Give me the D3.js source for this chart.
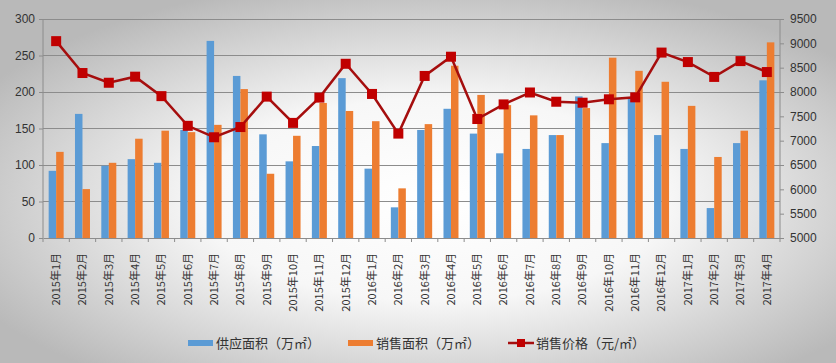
<!DOCTYPE html>
<html><head><meta charset="utf-8">
<script src="https://cdn.jsdelivr.net/npm/d3@7"></script>
<style>html,body{margin:0;padding:0;}svg{display:block;}</style>
</head><body>
<svg id="c" width="836" height="363"></svg>
<script>
const categories = ["2015年1月","2015年2月","2015年3月","2015年4月","2015年5月","2015年6月","2015年7月","2015年8月","2015年9月","2015年10月","2015年11月","2015年12月","2016年1月","2016年2月","2016年3月","2016年4月","2016年5月","2016年6月","2016年7月","2016年8月","2016年9月","2016年10月","2016年11月","2016年12月","2017年1月","2017年2月","2017年3月","2017年4月"];
const supply = [92,170,99,108,103,148,270,222,142,105,126,219,95,42,148,177,143,116,122,141,194,130,191,141,122,41,130,216];
const sales = [118,67,103,136,147,145,155,204,88,140,185,174,160,68,156,236,196,182,168,141,178,247,229,214,181,111,147,268];
const price = [9045,8390,8190,8315,7915,7305,7070,7280,7905,7365,7885,8580,7960,7145,8330,8725,7445,7745,7990,7800,7780,7850,7890,8810,8615,8310,8635,8410];
const leftTicks = [0,50,100,150,200,250,300];
const rightTicks = [5000,5500,6000,6500,7000,7500,8000,8500,9000,9500];
const seriesNames = ["供应面积（万㎡）","销售面积（万㎡）","销售价格（元/㎡）"];

const svg = d3.select("#c");
const W = 836, H = 363;
const defs = svg.append("defs");
const rg = defs.append("radialGradient").attr("id","bg").attr("cx","52%").attr("cy","55%").attr("r","62%");
rg.append("stop").attr("offset","0%").attr("stop-color","#ffffff");
rg.append("stop").attr("offset","45%").attr("stop-color","#f7f7f7");
rg.append("stop").attr("offset","100%").attr("stop-color","#b9b9b9");
svg.append("rect").attr("width",W).attr("height",H).attr("fill","url(#bg)");

const m = {l:43, r:780, t:19, b:238};
const x = d3.scaleBand().domain(categories).range([m.l, m.r]);
const yL = d3.scaleLinear().domain([0,300]).range([m.b, m.t]);
const yR = d3.scaleLinear().domain([5000,9500]).range([m.b, m.t]);

const font = "'Liberation Sans', 'DejaVu Sans', sans-serif";
const cjk = "'Noto Sans CJK SC', sans-serif";

svg.append("g").selectAll("line").data(leftTicks.filter(d=>d>0)).join("line")
  .attr("x1",m.l).attr("x2",m.r).attr("y1",d=>yL(d)).attr("y2",d=>yL(d))
  .attr("stroke","#8c8c8c").attr("stroke-width",1).attr("shape-rendering","crispEdges");

const bw = 7.5;
svg.append("g").selectAll("rect").data(supply).join("rect")
  .attr("x",(d,i)=>x(categories[i])+x.bandwidth()/2-bw)
  .attr("y",d=>yL(d)).attr("width",bw).attr("height",d=>m.b-yL(d))
  .attr("fill","#5b9bd5");
svg.append("g").selectAll("rect").data(sales).join("rect")
  .attr("x",(d,i)=>x(categories[i])+x.bandwidth()/2)
  .attr("y",d=>yL(d)).attr("width",bw).attr("height",d=>m.b-yL(d))
  .attr("fill","#ed7d31");

const axL = d3.axisLeft(yL).tickValues(leftTicks).tickSize(4).tickPadding(4);
const gL = svg.append("g").attr("transform",`translate(${m.l},0)`).call(axL);
const axR = d3.axisRight(yR).tickValues(rightTicks).tickFormat(d3.format("d")).tickSize(4).tickPadding(6);
const gR = svg.append("g").attr("transform",`translate(${m.r},0)`).call(axR);
const axB = d3.axisBottom(x).tickSize(0).tickPadding(0);
const gB = svg.append("g").attr("transform",`translate(0,${m.b})`).call(axB);
[gL,gR,gB].forEach(g=>{
  g.select(".domain").attr("stroke","#8c8c8c");
  g.selectAll(".tick line").attr("stroke","#8c8c8c");
  g.selectAll("text").attr("fill","#333").style("font-family",font).style("font-size","12px");
});
gL.select(".domain").attr("d",`M-0,${m.t}H0V${m.b}H-0`);
gR.select(".domain").attr("d",`M0,${m.t}H0V${m.b}H0`);
gB.append("g").selectAll("line").data(d3.range(categories.length+1)).join("line")
  .attr("x1",i=>m.l+i*x.step()).attr("x2",i=>m.l+i*x.step()).attr("y1",0).attr("y2",4)
  .attr("stroke","#8c8c8c");
gB.selectAll(".tick text")
  .attr("transform","rotate(-90)").attr("text-anchor","end")
  .attr("x",-15).attr("y",0).attr("dy","0.35em")
  .style("font-family",cjk).style("font-size","11px").attr("fill","#333");

const line = d3.line().x((d,i)=>x(categories[i])+x.bandwidth()/2).y(d=>yR(d));
svg.append("path").datum(price).attr("d",line).attr("fill","none")
  .attr("stroke","#a50e0e").attr("stroke-width",2.5);
const ms = 10;
svg.append("g").selectAll("rect").data(price).join("rect")
  .attr("x",(d,i)=>x(categories[i])+x.bandwidth()/2-ms/2)
  .attr("y",d=>yR(d)-ms/2).attr("width",ms).attr("height",ms)
  .attr("fill","#c00000");

const lg = svg.append("g").style("font-family",cjk).style("font-size","13px");
const ly = 343;
lg.append("rect").attr("x",188).attr("y",ly-3).attr("width",25).attr("height",6).attr("fill","#5b9bd5");
lg.append("text").attr("x",216).attr("y",ly).attr("dy","0.35em").attr("fill","#333").text(seriesNames[0]);
lg.append("rect").attr("x",348).attr("y",ly-3).attr("width",25).attr("height",6).attr("fill","#ed7d31");
lg.append("text").attr("x",376).attr("y",ly).attr("dy","0.35em").attr("fill","#333").text(seriesNames[1]);
lg.append("line").attr("x1",508).attr("x2",534).attr("y1",ly).attr("y2",ly).attr("stroke","#a50e0e").attr("stroke-width",2.5);
lg.append("rect").attr("x",517).attr("y",ly-4).attr("width",8).attr("height",8).attr("fill","#c00000");
lg.append("text").attr("x",536).attr("y",ly).attr("dy","0.35em").attr("fill","#333").text(seriesNames[2]);
</script>
</body></html>
